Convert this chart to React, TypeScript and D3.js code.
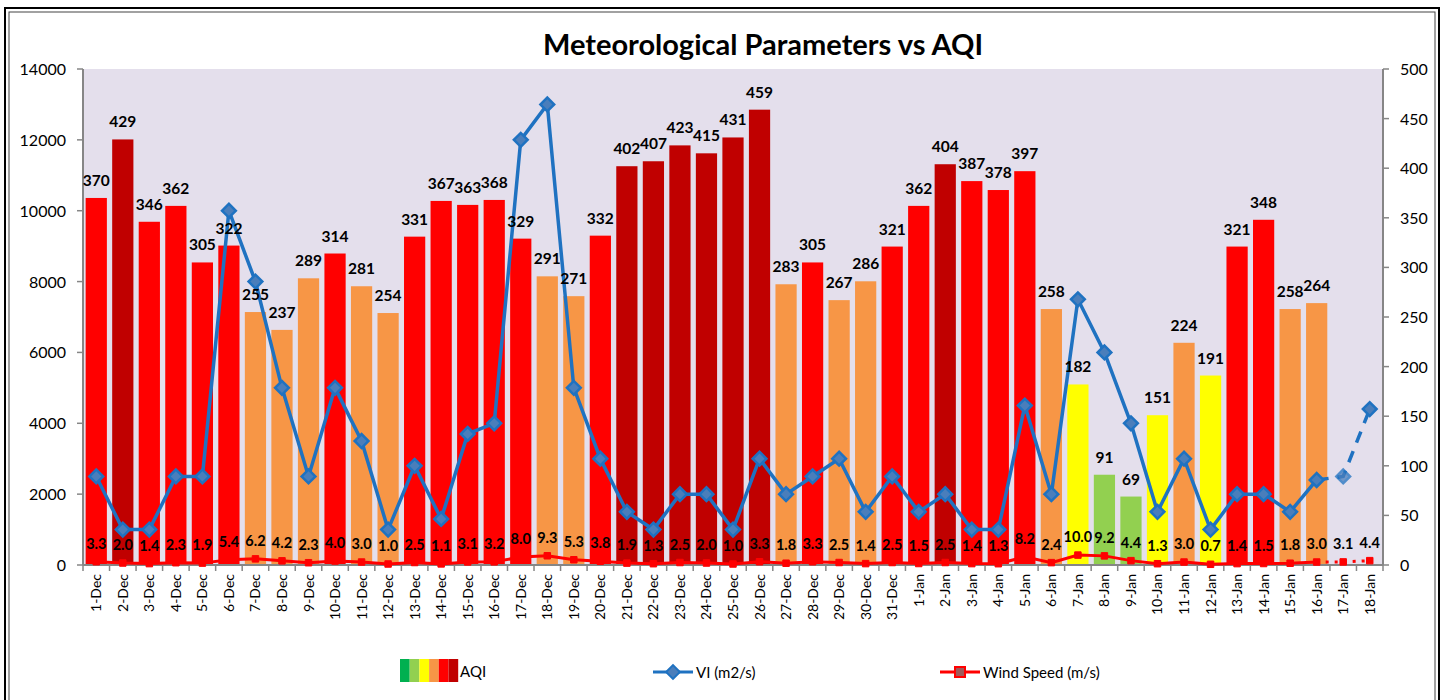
import React from 'react'
import * as d3 from 'd3'

const dates = [
  '1-Dec', '2-Dec', '3-Dec', '4-Dec', '5-Dec', '6-Dec', '7-Dec', '8-Dec', '9-Dec', '10-Dec',
  '11-Dec', '12-Dec', '13-Dec', '14-Dec', '15-Dec', '16-Dec', '17-Dec', '18-Dec', '19-Dec', '20-Dec',
  '21-Dec', '22-Dec', '23-Dec', '24-Dec', '25-Dec', '26-Dec', '27-Dec', '28-Dec', '29-Dec', '30-Dec',
  '31-Dec', '1-Jan', '2-Jan', '3-Jan', '4-Jan', '5-Jan', '6-Jan', '7-Jan', '8-Jan', '9-Jan',
  '10-Jan', '11-Jan', '12-Jan', '13-Jan', '14-Jan', '15-Jan', '16-Jan', '17-Jan', '18-Jan'
]

const aqi: (number | null)[] = [
  370, 429, 346, 362, 305, 322, 255, 237, 289, 314,
  281, 254, 331, 367, 363, 368, 329, 291, 271, 332,
  402, 407, 423, 415, 431, 459, 283, 305, 267, 286,
  321, 362, 404, 387, 378, 397, 258, 182, 91, 69,
  151, 224, 191, 321, 348, 258, 264, null, null
]

const vi = [
  2500, 1000, 1000, 2500, 2500, 10000, 8000, 5000, 2500, 5000,
  3500, 1000, 2800, 1300, 3700, 4000, 12000, 13000, 5000, 3000,
  1500, 1000, 2000, 2000, 1000, 3000, 2000, 2500, 3000, 1500,
  2500, 1500, 2000, 1000, 1000, 4500, 2000, 7500, 6000, 4000,
  1500, 3000, 1000, 2000, 2000, 1500, 2400, 2500, 4400
]

const wind = [
  3.3, 2.0, 1.4, 2.3, 1.9, 5.4, 6.2, 4.2, 2.3, 4.0,
  3.0, 1.0, 2.5, 1.1, 3.1, 3.2, 8.0, 9.3, 5.3, 3.8,
  1.9, 1.3, 2.5, 2.0, 1.0, 3.3, 1.8, 3.3, 2.5, 1.4,
  2.5, 1.5, 2.5, 1.4, 1.3, 8.2, 2.4, 10.0, 9.2, 4.4,
  1.3, 3.0, 0.7, 1.4, 1.5, 1.8, 3.0, 3.1, 4.4
]

// index where the forecast (dashed) part starts
const forecastFrom = 46

const aqiBreaks = [50, 100, 200, 300, 400]
const aqiColors = ['#00b050', '#92d050', '#ffff00', '#f79646', '#ff0000', '#c00000']

const leftTicks = d3.range(0, 14001, 2000)
const rightTicks = d3.range(0, 501, 50)

const W = 1445
const H = 700
const m = { left: 83, right: 1383, top: 69, bottom: 565 }
const font = 'Lato, "Open Sans", sans-serif'
const blue = '#1f72c1'

export default function App() {
  const x = d3.scaleBand<string>().domain(dates).range([m.left, m.right]).paddingInner(0.2).paddingOuter(0.1)
  const yL = d3.scaleLinear().domain([0, 14000]).range([m.bottom, m.top])
  const yR = d3.scaleLinear().domain([0, 500]).range([m.bottom, m.top])
  const color = d3.scaleThreshold<number, string>().domain(aqiBreaks.map(b => b + 0.5)).range(aqiColors)
  const step = x.step()
  const cx = (i: number) => (x(dates[i]) as number) + x.bandwidth() / 2

  const viPts = vi.map((d, i) => [i, d] as [number, number])
  const viLine = d3.line<[number, number]>().x(d => cx(d[0])).y(d => yL(d[1]))
  const wPts = wind.map((d, i) => [i, d] as [number, number])
  const wLine = d3.line<[number, number]>().x(d => cx(d[0])).y(d => yR(d[1]))

  const diamond = d3.symbol().type(d3.symbolSquare).size(95)()
  const square = d3.symbol().type(d3.symbolSquare).size(42)()

  return (
    <svg width={W} height={H} style={{ position: 'absolute', left: 0, top: 0, background: '#fff' }} fontFamily={font}>
      <rect x={5} y={8} width={1434} height={H} fill="#fff" stroke="#000" strokeWidth={2} />
      <rect x={9} y={12} width={1426} height={H} fill="none" stroke="#444" strokeWidth={1} />

      <text x={763} y={55} textAnchor="middle" fontSize={29} fontWeight={700} fill="#000">
        Meteorological Parameters vs AQI
      </text>

      <rect x={m.left} y={m.top} width={m.right - m.left} height={m.bottom - m.top} fill="#e4dfec" />

      {/* AQI bars */}
      {aqi.map((v, i) => v == null ? null : (
        <rect key={'b' + i} x={x(dates[i])} y={yR(v)} width={x.bandwidth()} height={m.bottom - yR(v)} fill={color(v)} />
      ))}

      {/* axes */}
      <line x1={m.left} x2={m.left} y1={m.top} y2={m.bottom} stroke="#868686" strokeWidth={2} />
      <line x1={m.right} x2={m.right} y1={m.top} y2={m.bottom} stroke="#868686" strokeWidth={2} />
      <line x1={m.left} x2={m.right} y1={m.bottom} y2={m.bottom} stroke="#868686" strokeWidth={2} />
      {leftTicks.map(t => (
        <g key={'l' + t}>
          <line x1={m.left - 6} x2={m.left} y1={yL(t)} y2={yL(t)} stroke="#868686" strokeWidth={1.5} />
          <text x={m.left - 17} y={yL(t) + 6} textAnchor="end" fontSize={16} fill="#000">{t}</text>
        </g>
      ))}
      {rightTicks.map(t => (
        <g key={'r' + t}>
          <line x1={m.right} x2={m.right + 6} y1={yR(t)} y2={yR(t)} stroke="#868686" strokeWidth={1.5} />
          <text x={m.right + 17} y={yR(t) + 6} textAnchor="start" fontSize={16} fill="#000">{t}</text>
        </g>
      ))}
      {dates.map((d, i) => (
        <g key={'x' + d}>
          <line x1={m.left + i * step} x2={m.left + i * step} y1={m.bottom} y2={m.bottom + 6} stroke="#868686" strokeWidth={1.5} />
          <text transform={`translate(${cx(i) + 5},${m.bottom + 9}) rotate(-90)`} textAnchor="end" fontSize={14} fill="#000">{d}</text>
        </g>
      ))}
      <line x1={m.right} x2={m.right} y1={m.bottom} y2={m.bottom + 6} stroke="#868686" strokeWidth={1.5} />

      {/* wind speed line */}
      <path d={wLine(wPts.slice(0, forecastFrom + 1)) as string} fill="none" stroke="#ff0000" strokeWidth={3} />
      <path d={wLine(wPts.slice(forecastFrom)) as string} fill="none" stroke="#ff0000" strokeWidth={3} strokeDasharray="3,6" />
      {wind.map((v, i) => (
        <path key={'ws' + i} d={square as string} transform={`translate(${cx(i)},${yR(v)})`} fill="#ff0000" stroke="#ff0000" strokeWidth={1} />
      ))}

      {/* VI line */}
      <path d={viLine(viPts.slice(0, forecastFrom + 1)) as string} fill="none" stroke={blue} strokeWidth={3.5} />
      <path d={viLine(viPts.slice(forecastFrom)) as string} fill="none" stroke={blue} strokeWidth={3.5} strokeDasharray="12,9" />
      {vi.map((v, i) => (
        <path key={'vm' + i} d={diamond as string} transform={`translate(${cx(i)},${yL(v)}) rotate(45)`}
          fill="#4a7ebb" stroke={blue} strokeWidth={2.5} opacity={i === forecastFrom + 1 ? 0.75 : 1} />
      ))}

      {/* AQI labels */}
      {aqi.map((v, i) => v == null ? null : (
        <text key={'bl' + i} x={cx(i)} y={yR(v) - 12} textAnchor="middle" fontSize={15.5} fontWeight={700} fill="#000">{v}</text>
      ))}
      {/* wind labels */}
      {wind.map((v, i) => (
        <text key={'wl' + i} x={cx(i)} y={yR(v) - 13} textAnchor="middle" fontSize={14.5} fontWeight={700} fill="#000">{v.toFixed(1)}</text>
      ))}

      {/* legend */}
      <g>
        {aqiColors.map((c, i) => (
          <rect key={'lg' + i} x={400 + i * 9.7} y={659} width={9.7} height={23} fill={c} />
        ))}
        <text x={460} y={677} fontSize={15} fill="#000">AQI</text>

        <line x1={653} x2={693} y1={672} y2={672} stroke={blue} strokeWidth={3} />
        <path d={diamond as string} transform="translate(673,672) rotate(45)" fill="#4a7ebb" stroke={blue} strokeWidth={2} />
        <text x={696} y={678} fontSize={15} fill="#000">VI (m2/s)</text>

        <line x1={940} x2={980} y1={672} y2={672} stroke="#ff0000" strokeWidth={3} />
        <rect x={955} y={667} width={10} height={10} fill="#a05a5a" stroke="#ff0000" strokeWidth={2} />
        <text x={983} y={678} fontSize={15} fill="#000">Wind Speed (m/s)</text>
      </g>
    </svg>
  )
}
